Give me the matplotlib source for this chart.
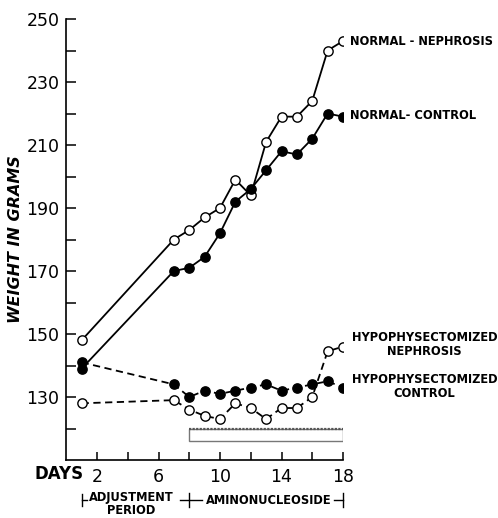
import matplotlib
matplotlib.use("Agg")
import matplotlib.pyplot as plt
from matplotlib.patches import Rectangle
import matplotlib.transforms as mtransforms
from matplotlib import font_manager

# ---- data ----
days_long = [1, 7, 8, 9, 10, 11, 12, 13, 14, 15, 16, 17, 18]
normal_nephrosis = [148, 180, 183, 187, 190, 199, 194, 211, 219, 219, 224, 240, 243]
normal_control = [139, 170, 171, 174.5, 182, 192, 196, 202, 208, 207, 212, 220, 219]
hypo_nephrosis = [128, 129, 126, 124, 123, 128, 126.5, 123, 126.5, 126.5, 130, 144.5, 146]
hypo_control = [141, 134, 130, 132, 131, 132, 133, 134, 132, 133, 134, 135, 133]

x_ticks = [2, 4, 6, 8, 10, 12, 14, 16, 18]
x_labels = ["2", "", "6", "", "10", "", "14", "", "18"]
y_ticks = [120, 130, 140, 150, 160, 170, 180, 190, 200, 210, 220, 230, 240, 250]
y_labels = ["", "130", "", "150", "", "170", "", "190", "", "210", "", "230", "", "250"]

treat_start, treat_end = 8, 18
bar_low, bar_high = 116, 120

names = {f.name for f in font_manager.fontManager.ttflist}
narrow = 'Liberation Sans Narrow' if 'Liberation Sans Narrow' in names else 'DejaVu Sans'
narrow_size = 10.5 if narrow == 'Liberation Sans Narrow' else 8.3
days_size = 15.5 if narrow == 'Liberation Sans Narrow' else 12

fig = plt.figure(figsize=(4.98, 5.18), dpi=100)
ax = fig.add_axes([66.25 / 498, 1 - 460 / 518, (343 - 66.25) / 498, (460 - 19) / 518])

ms = 6.7
lw = 1.3
ax.plot(days_long, normal_nephrosis, '-', color='black', lw=lw, marker='o',
        mfc='white', mec='black', ms=ms, mew=1.0, zorder=3)
ax.plot(days_long, normal_control, '-', color='black', lw=lw, marker='o',
        mfc='black', mec='black', ms=ms, zorder=3)
ax.plot(days_long, hypo_nephrosis, '--', color='black', lw=lw, marker='o',
        mfc='white', mec='black', ms=ms, mew=1.0, dashes=(4, 2.5), zorder=3)
ax.plot(days_long, hypo_control, '--', color='black', lw=lw, marker='o',
        mfc='black', mec='black', ms=ms, dashes=(4, 2.5), zorder=3)

ax.add_patch(Rectangle((treat_start, bar_low), treat_end - treat_start, bar_high - bar_low,
                       facecolor='white', edgecolor='#777777', lw=1.0, zorder=2))
ax.plot([treat_start, treat_end], [bar_high, bar_high], color='#555555', lw=1.6,
        ls=(0, (1, 0.6)), zorder=2)

ax.set_xlim(0, 18)
ax.set_ylim(110, 250)
for s in ['top', 'right']:
    ax.spines[s].set_visible(False)
ax.spines['left'].set_linewidth(1.2)
ax.spines['bottom'].set_linewidth(1.2)

ax.set_xticks(x_ticks)
ax.set_xticklabels(x_labels)
ax.set_yticks(y_ticks)
ax.set_yticklabels(y_labels)
ax.tick_params(axis='x', direction='in', length=6, width=1.1, labelsize=12.5, pad=6)
ax.tick_params(axis='y', direction='in', length=7, width=1.1, labelsize=12.5, pad=5)

ax.set_ylabel("WEIGHT IN GRAMS", fontsize=11.5, fontweight='bold', fontstyle='italic', labelpad=2)

lab = dict(fontsize=narrow_size, fontweight='bold', va='center', family=narrow)
ax.text(18.45, 243, "NORMAL - NEPHROSIS", ha='left', clip_on=False, **lab)
ax.text(18.45, 219.5, "NORMAL- CONTROL", ha='left', clip_on=False, **lab)
ax.text(23.3, 146.8, "HYPOPHYSECTOMIZED\nNEPHROSIS", ha='center', multialignment='center',
        clip_on=False, linespacing=1.1, **lab)
ax.text(23.3, 133.2, "HYPOPHYSECTOMIZED\nCONTROL", ha='center', multialignment='center',
        clip_on=False, linespacing=1.1, **lab)

# DAYS label
trans = mtransforms.blended_transform_factory(ax.transData, fig.transFigure)
fig.text(34 / 498, 1 - 474 / 518, "DAYS", fontsize=days_size, fontweight='bold',
         va='center', ha='left', family=narrow)

# bracket annotation
yb = 1 - 500 / 518
blk = dict(color='black', lw=1.0, transform=trans, clip_on=False)
ax.plot([1, 1], [yb - 0.012, yb + 0.012], **blk)
ax.plot([1, 1.35], [yb, yb], **blk)
ax.plot([7.4, 8.8], [yb, yb], **blk)
ax.plot([8, 8], [yb - 0.014, yb + 0.014], **blk)
ax.plot([17.4, 18], [yb, yb], **blk)
ax.plot([18, 18], [yb - 0.014, yb + 0.014], **blk)
ax.text(4.2, 1 - 497 / 518, "ADJUSTMENT", transform=trans, ha='center', va='center',
        fontsize=narrow_size, fontweight='bold', family=narrow)
ax.text(4.2, 1 - 511 / 518, "PERIOD", transform=trans, ha='center', va='center',
        fontsize=narrow_size, fontweight='bold', family=narrow)
ax.text(13.2, 1 - 500 / 518, "AMINONUCLEOSIDE", transform=trans, ha='center', va='center',
        fontsize=narrow_size, fontweight='bold', family=narrow)

fig.savefig("out.png", dpi=100)
